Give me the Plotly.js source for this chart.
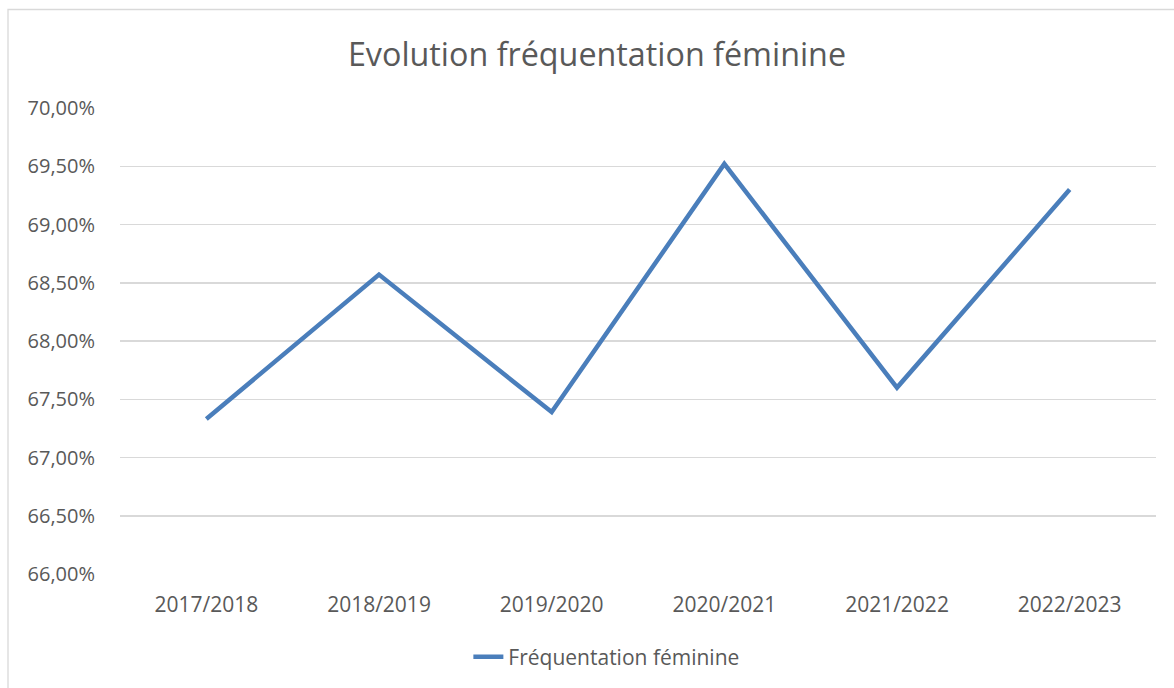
<!DOCTYPE html>
<html>
<head>
<meta charset="utf-8">
<script src="https://cdn.plot.ly/plotly-3.0.1.min.js"></script>
<style>html,body{margin:0;padding:0;background:#fff;}#chart{width:1174px;height:688px;}</style>
</head>
<body>
<div id="chart"></div>
<script>
const categories = ["2017/2018", "2018/2019", "2019/2020", "2020/2021", "2021/2022", "2022/2023"];
const seriesName = "Fréquentation féminine";
const values = [0.6733, 0.6857, 0.6739, 0.6952, 0.6760, 0.6930];
const chartTitle = "Evolution fréquentation féminine";

const fontFam = "Open Sans, Noto Sans, sans-serif";
const textColor = "#595959";

const trace = {
  x: categories,
  y: values,
  type: "scatter",
  mode: "lines",
  name: seriesName,
  line: {color: "#4a7ebb", width: 4.5}
};

const layout = {
  width: 1174,
  height: 688,
  margin: {l: 120, r: 18, t: 108, b: 114},
  paper_bgcolor: "#ffffff",
  plot_bgcolor: "#ffffff",
  separators: ", ",
  title: {
    text: chartTitle,
    font: {family: fontFam, size: 32.3, color: textColor},
    xref: "container", x: 0.5085, xanchor: "center",
    yref: "container", y: 1 - 55/688, yanchor: "middle"
  },
  xaxis: {
    type: "category",
    range: [-0.5, categories.length - 0.5],
    showgrid: false,
    zeroline: false,
    showline: false,
    ticks: "",
    tickfont: {family: fontFam, size: 21, color: textColor},
    ticklabelstandoff: 16
  },
  yaxis: {
    range: [0.66, 0.70],
    dtick: 0.005,
    tick0: 0.66,
    tickformat: ".2%",
    showgrid: true,
    gridcolor: "#d9d9d9",
    gridwidth: 1.5,
    zeroline: false,
    showline: false,
    ticks: "",
    ticklabelstandoff: 24,
    tickfont: {family: fontFam, size: 20, color: textColor}
  },
  showlegend: true,
  legend: {
    orientation: "h",
    xref: "container", x: 0.5165, xanchor: "center",
    yref: "container", y: 1 - 657/688, yanchor: "middle",
    font: {family: fontFam, size: 21, color: textColor},
    bgcolor: "rgba(0,0,0,0)"
  },
  shapes: [{
    type: "rect",
    xref: "paper", yref: "paper",
    x0: (8 - 120) / 1036, x1: (1400 - 120) / 1036,
    y0: (574 - 800) / 466, y1: (574 - 9.5) / 466,
    line: {color: "#d9d9d9", width: 1.3},
    fillcolor: "rgba(0,0,0,0)",
    layer: "below"
  }]
};

Plotly.newPlot("chart", [trace], layout, {displayModeBar: false, staticPlot: true});
</script>
</body>
</html>
